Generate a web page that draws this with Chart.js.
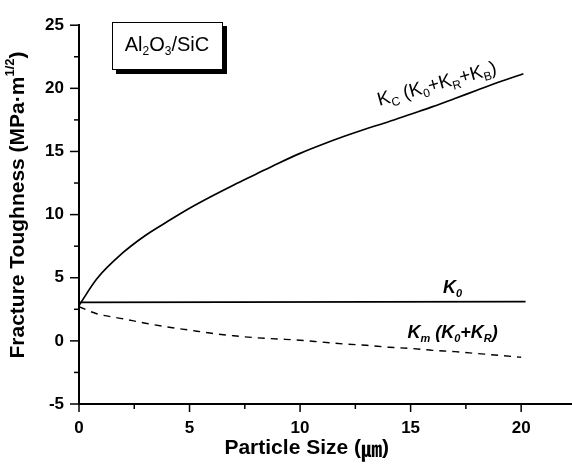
<!DOCTYPE html>
<html>
<head>
<meta charset="utf-8">
<script src="https://cdn.jsdelivr.net/npm/chart.js@4.4.0/dist/chart.umd.min.js"></script>
<style>
  html, body { margin: 0; padding: 0; background: #fff; }
  #wrap { width: 572px; height: 466px; }
</style>
</head>
<body>
<div id="wrap"><canvas id="chart" width="572" height="466"></canvas></div>
<script>
// values
const sizeKc = [0, 0.8, 2, 3, 4, 5, 6, 7, 8, 9, 10, 11, 12, 13, 14, 15, 16, 17, 18, 19, 20.1];
const kc = [2.8, 4.9, 7.0, 8.35, 9.45, 10.5, 11.45, 12.35, 13.2, 14.05, 14.85, 15.55, 16.2, 16.8, 17.35, 17.95, 18.55, 19.2, 19.85, 20.5, 21.15];

const sizeK0 = [0, 20.2];
const k0 = [3.05, 3.1];

const sizeKm = [0, 0.8, 2, 3, 4, 5, 6, 7, 8, 9, 10, 11, 12, 13, 14, 15, 16, 17, 18, 19, 20];
const km = [2.7, 2.15, 1.75, 1.4, 1.1, 0.85, 0.6, 0.4, 0.25, 0.15, 0.05, -0.1, -0.25, -0.35, -0.5, -0.6, -0.75, -0.85, -1.0, -1.15, -1.3];

const xTicks = [0, 2.5, 5, 7.5, 10, 12.5, 15, 17.5, 20];
const yTicks = [-5, -2.5, 0, 2.5, 5, 7.5, 10, 12.5, 15, 17.5, 20, 22.5, 25];

const FONT = '"Liberation Sans", Arial, sans-serif';

function pts(xs, ys) {
  return xs.map((x, i) => ({ x: x, y: ys[i] }));
}

// draw a run of text pieces with sub/superscripts, centered on (x, y)
function drawRich(ctx, parts, x, y, size, weight, style) {
  const fontFor = (p) => {
    const s = p.sub || p.sup ? Math.round(size * 0.62) : size;
    return (p.italic || style === 'italic' ? 'italic ' : '') + weight + ' ' + s + 'px ' + (p.family || FONT);
  };
  let total = 0;
  parts.forEach(p => { ctx.font = fontFor(p); total += ctx.measureText(p.t).width; });
  let cx = x - total / 2;
  ctx.textAlign = 'left';
  ctx.textBaseline = 'middle';
  parts.forEach(p => {
    ctx.font = fontFor(p);
    let dy = 0;
    if (p.sub) dy = size * 0.32;
    if (p.sup) dy = -size * 0.35;
    ctx.fillText(p.t, cx, y + dy);
    cx += ctx.measureText(p.t).width;
  });
}

const decorations = {
  id: 'decorations',
  afterDraw(chart) {
    const ctx = chart.ctx;
    const xs = chart.scales.x, ys = chart.scales.y;
    const left = xs.left, bottom = ys.bottom;
    ctx.save();
    ctx.fillStyle = '#000';
    ctx.strokeStyle = '#000';

    // outward ticks, long at labelled values
    ctx.lineWidth = 1.5;
    xTicks.forEach(v => {
      const px = xs.getPixelForValue(v);
      const len = v % 5 === 0 ? 8 : 5;
      ctx.beginPath(); ctx.moveTo(px, bottom); ctx.lineTo(px, bottom + len); ctx.stroke();
    });
    yTicks.forEach(v => {
      const py = ys.getPixelForValue(v);
      const len = v % 5 === 0 ? 9 : 5;
      ctx.beginPath(); ctx.moveTo(left, py); ctx.lineTo(left - len, py); ctx.stroke();
    });

    // axis titles
    drawRich(ctx, [{ t: 'Particle Size (' }, { t: '㎛', family: '"Noto Sans CJK KR", sans-serif' }, { t: ')' }],
      xs.getPixelForValue(10.3), 448, 21, 'bold');
    ctx.save();
    ctx.translate(18, 205);
    ctx.rotate(-Math.PI / 2);
    drawRich(ctx, [{ t: 'Fracture Toughness (MPa·m' }, { t: '1/2', sup: true }, { t: ')' }], 0, 0, 21, 'bold');
    ctx.restore();

    // material box with drop shadow
    ctx.fillRect(116, 26, 111, 48);
    ctx.fillStyle = '#fff';
    ctx.fillRect(112, 22, 111, 48);
    ctx.lineWidth = 1;
    ctx.strokeRect(112.5, 22.5, 110, 47);
    ctx.fillStyle = '#000';
    drawRich(ctx, [{ t: 'Al' }, { t: '2', sub: true }, { t: 'O' }, { t: '3', sub: true }, { t: '/SiC' }], 167, 45, 20, 'normal');

    // curve labels
    ctx.save();
    ctx.translate(xs.getPixelForValue(16.2), ys.getPixelForValue(20.3));
    ctx.rotate(-15.5 * Math.PI / 180);
    drawRich(ctx, [{ t: 'K' }, { t: 'C', sub: true }, { t: ' (K' }, { t: '0', sub: true }, { t: '+K' },
      { t: 'R', sub: true }, { t: '+K' }, { t: 'B', sub: true }, { t: ')' }], 0, 0, 19, 'normal');
    ctx.restore();

    drawRich(ctx, [{ t: 'K' }, { t: '0', sub: true }],
      xs.getPixelForValue(16.9), ys.getPixelForValue(4.2), 18, 'bold', 'italic');
    drawRich(ctx, [{ t: 'K' }, { t: 'm', sub: true }, { t: ' (K' }, { t: '0', sub: true }, { t: '+K' }, { t: 'R', sub: true }, { t: ')' }],
      xs.getPixelForValue(16.9), ys.getPixelForValue(0.6), 18, 'bold', 'italic');

    ctx.restore();
  }
};

new Chart(document.getElementById('chart').getContext('2d'), {
  type: 'scatter',
  data: {
    datasets: [
      {
        label: 'Kc',
        data: pts(sizeKc, kc),
        showLine: true,
        borderColor: '#000',
        borderWidth: 1.7,
        pointRadius: 0,
        cubicInterpolationMode: 'monotone'
      },
      {
        label: 'K0',
        data: pts(sizeK0, k0),
        showLine: true,
        borderColor: '#000',
        borderWidth: 1.7,
        pointRadius: 0
      },
      {
        label: 'Km',
        data: pts(sizeKm, km),
        showLine: true,
        borderColor: '#000',
        borderWidth: 1.4,
        borderDash: [7, 6],
        pointRadius: 0,
        cubicInterpolationMode: 'monotone'
      }
    ]
  },
  options: {
    responsive: false,
    animation: false,
    layout: { padding: { top: 17, right: 0, left: 0, bottom: 0 } },
    plugins: { legend: { display: false }, tooltip: { enabled: false } },
    scales: {
      x: {
        type: 'linear',
        min: 0,
        max: 22.3,
        afterBuildTicks: scale => { scale.ticks = xTicks.map(v => ({ value: v })); },
        afterFit: scale => { scale.height = 62; },
        grid: { display: true, drawOnChartArea: false, drawTicks: false },
        border: { display: true, color: '#000', width: 2 },
        ticks: {
          padding: 14,
          color: '#000',
          font: { family: FONT, size: 17, weight: 'bold' },
          maxRotation: 0,
          autoSkip: false,
          callback: v => (v % 5 === 0 ? String(v) : '')
        }
      },
      y: {
        type: 'linear',
        min: -5,
        max: 25,
        afterBuildTicks: scale => { scale.ticks = yTicks.map(v => ({ value: v })); },
        afterFit: scale => { scale.width = 79; },
        grid: { display: true, drawOnChartArea: false, drawTicks: false },
        border: { display: true, color: '#000', width: 2 },
        ticks: {
          padding: 15,
          color: '#000',
          font: { family: FONT, size: 17, weight: 'bold' },
          autoSkip: false,
          callback: v => (v % 5 === 0 ? String(v) : '')
        }
      }
    }
  },
  plugins: [decorations]
});
</script>
</body>
</html>
